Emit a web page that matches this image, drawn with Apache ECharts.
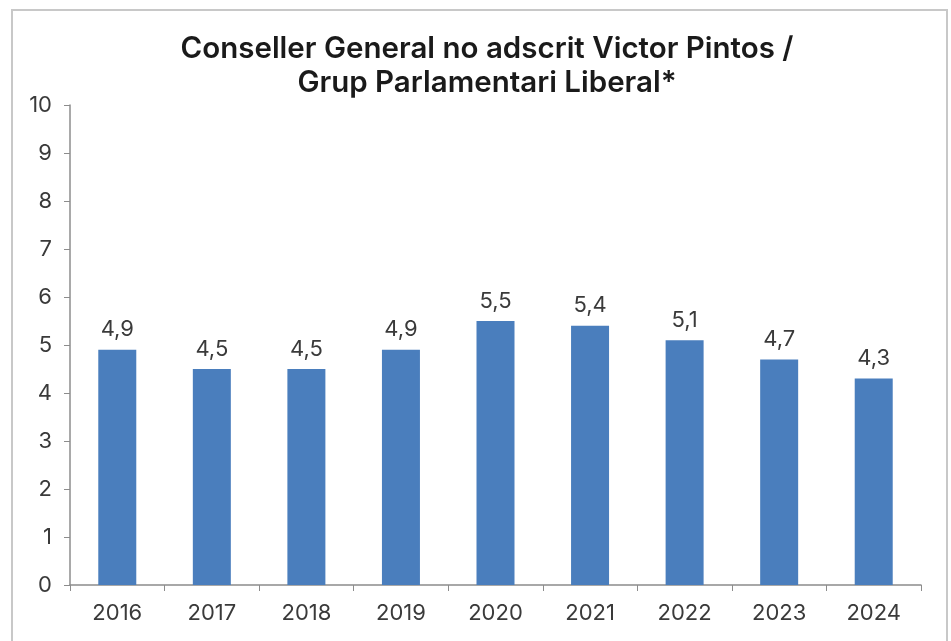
<!DOCTYPE html>
<html><head><meta charset="utf-8">
<script src="https://cdn.jsdelivr.net/npm/echarts@6/dist/echarts.min.js"></script>
<style>html,body{margin:0;padding:0;background:#fff}#c{width:951px;height:641px}</style>
</head><body><div id="c"></div>
<script>
var categories = ['2016','2017','2018','2019','2020','2021','2022','2023','2024'];
var values = [4.9, 4.5, 4.5, 4.9, 5.5, 5.4, 5.1, 4.7, 4.3];
var titleText = 'Conseller General no adscrit Victor Pintos /\nGrup Parlamentari Liberal*';

var chart = echarts.init(document.getElementById('c'));
chart.setOption({
  animation: false,
  backgroundColor: '#fff',
  title: {
    text: titleText, left: 482, top: 27, textAlign: 'center',
    textStyle: {fontFamily: 'Inter', fontWeight: 600, fontSize: 29.5, lineHeight: 34, color: '#1a1a1a'}
  },
  graphic: [{type: 'rect', shape: {x: 12, y: 10, width: 935, height: 660}, style: {fill: 'none', stroke: '#c8c8c8', lineWidth: 2}, silent: true}],
  grid: {left: 70, right: 30, top: 105, bottom: 56},
  xAxis: {
    type: 'category', data: categories,
    axisLine: {lineStyle: {color: '#8c8c8c', width: 1.5}},
    axisTick: {show: true, length: 6, lineStyle: {color: '#8c8c8c'}},
    axisLabel: {color: '#3a3a3a', fontFamily: 'Inter', fontSize: 22, margin: 17}
  },
  yAxis: {
    type: 'value', min: 0, max: 10, interval: 1,
    splitLine: {show: false},
    axisLine: {show: true, lineStyle: {color: '#8c8c8c', width: 1.5}},
    axisTick: {show: true, length: 6, lineStyle: {color: '#8c8c8c'}},
    axisLabel: {color: '#3a3a3a', fontFamily: 'Inter', fontSize: 22, margin: 18}
  },
  series: [{
    type: 'bar', data: values, barWidth: 38,
    itemStyle: {color: '#4a7ebd'},
    label: {show: true, position: 'top', distance: 9, color: '#3a3a3a', fontFamily: 'Inter', fontSize: 22,
      formatter: function(p){ return String(p.value).replace('.', ','); }}
  }]
});
</script></body></html>
